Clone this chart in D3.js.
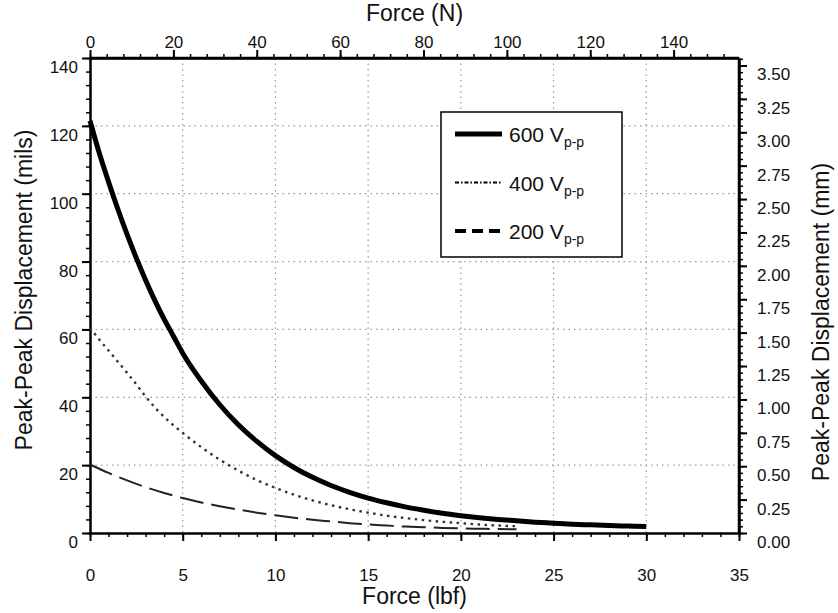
<!DOCTYPE html>
<html>
<head>
<meta charset="utf-8">
<script src="https://cdn.jsdelivr.net/npm/d3@7"></script>
<style>
  html, body { margin: 0; padding: 0; background: #fff; }
  svg { display: block; font-family: "Liberation Sans", Arial, sans-serif; }
  .axis text { font-size: 17px; fill: #111; }
  .axis path, .axis line { stroke: #000; }
</style>
</head>
<body>
<div id="chart"></div>
<script>
// ── Data ──────────────────────────────────────────────────────────────────
const force600 = [0, 0.5, 1, 1.5, 2, 2.5, 3, 3.5, 4, 4.5, 5, 6, 7, 8, 9, 10, 11, 12, 13, 14, 15,
                  16, 17, 18, 19, 20, 21, 22, 23, 24, 25, 26, 27, 28, 29, 30];
const disp600 = [121.5, 112, 103.5, 95.5, 88, 81, 74.5, 68.5, 63, 58, 53, 44.8, 37.8, 31.9, 27,
                 22.8, 19.3, 16.4, 14, 12, 10.3, 8.9, 7.7, 6.7, 5.8, 5.1, 4.5, 4.0, 3.6, 3.2,
                 2.9, 2.6, 2.4, 2.2, 2.05, 1.9];

const force400 = [0, 0.5, 1, 1.5, 2, 2.5, 3, 3.5, 4, 5, 6, 7, 8, 9, 10, 11, 12, 13, 14, 15,
                  16, 17, 18, 19, 20, 21, 22, 23];
const disp400 = [60.5, 57, 53.8, 50.5, 47.2, 43.8, 40.2, 37, 34.2, 29.5, 25.3, 21.6, 18.4, 15.6,
                 13.3, 11.3, 9.6, 8.2, 7, 6, 5.1, 4.4, 3.8, 3.3, 2.9, 2.5, 2.2, 2.0];

const force200 = [0, 1, 2, 3, 4, 5, 6, 7, 8, 9, 10, 11, 12, 13, 14, 15, 16, 17, 18, 19, 20,
                  21, 22, 23];
const disp200 = [20.2, 17.7, 15.5, 13.5, 11.8, 10.3, 9, 7.9, 6.9, 6, 5.2, 4.5, 3.9, 3.4, 2.9,
                 2.5, 2.2, 1.9, 1.7, 1.5, 1.35, 1.25, 1.15, 1.1];

const seriesLabels = ['600', '400', '200'];

const lbfTicks = [0, 5, 10, 15, 20, 25, 30, 35];
const newtonTicks = [0, 20, 40, 60, 80, 100, 120, 140];
const milsTicks = [0, 20, 40, 60, 80, 100, 120, 140];
const mmTicks = [0, 0.25, 0.5, 0.75, 1, 1.25, 1.5, 1.75, 2, 2.25, 2.5, 2.75, 3, 3.25, 3.5];

(function () {
  'use strict';

  const W = 838, H = 613;
  const left = 90, right = 739, top = 58, bottom = 533;
  const LBF_TO_N = 4.44822;
  const MIL_TO_MM = 0.0254;

  const svg = d3.select('#chart').append('svg')
    .attr('width', W)
    .attr('height', H);

  const x = d3.scaleLinear().domain([0, 35]).range([left, right]);
  const xN = d3.scaleLinear().domain([0, 35 * LBF_TO_N]).range([left, right]);
  const y = d3.scaleLinear().domain([0, 140]).range([bottom, top]);
  const yMm = d3.scaleLinear().domain([0, 140 * MIL_TO_MM]).range([bottom, top]);

  // ── Grid ────────────────────────────────────────────────────────────────
  const grid = svg.append('g').attr('stroke', '#9a9a9a').attr('stroke-width', 1.2)
    .attr('stroke-dasharray', '1.5,4');
  grid.selectAll('.vg').data(lbfTicks.filter(t => t > 0 && t < 35)).enter()
    .append('line')
    .attr('x1', d => x(d)).attr('x2', d => x(d))
    .attr('y1', top).attr('y2', bottom);
  grid.selectAll('.hg').data(milsTicks.filter(t => t > 0 && t < 140)).enter()
    .append('line')
    .attr('x1', left).attr('x2', right)
    .attr('y1', d => y(d)).attr('y2', d => y(d));

  // ── Axes ────────────────────────────────────────────────────────────────
  const minor = (scale, step) => d3.range(0, scale.domain()[1] + 1e-9, step);

  function drawAxis(axisFn, scale, major, step, transform, fmt, labelShift) {
    svg.append('g').attr('class', 'axis').attr('transform', transform)
      .call(axisFn(scale).tickValues(minor(scale, step)).tickSize(4).tickFormat(''))
      .call(ax => ax.select('.domain').remove())
      .call(ax => ax.selectAll('line').attr('stroke-width', 1.5));
    const g = svg.append('g').attr('class', 'axis').attr('transform', transform)
      .call(axisFn(scale).tickValues(major).tickSize(8).tickSizeOuter(0).tickFormat(fmt))
      .call(ax => ax.select('.domain').attr('stroke-width', 2.5))
      .call(ax => ax.selectAll('.tick line').attr('stroke-width', 2));
    labelShift(g.selectAll('text'));
  }

  drawAxis(d3.axisBottom, x, lbfTicks, 1, `translate(0,${bottom})`, d3.format('d'),
    t => t.attr('y', 36));
  drawAxis(d3.axisTop, xN, newtonTicks, 4, `translate(0,${top})`, d3.format('d'),
    t => t.attr('y', -10));
  drawAxis(d3.axisLeft, y, milsTicks, 4, `translate(${left},0)`, d3.format('d'),
    t => t.attr('x', -12).attr('y', 9));
  drawAxis(d3.axisRight, yMm, mmTicks, 0.05, `translate(${right},0)`, d3.format('.2f'),
    t => t.attr('x', 18).attr('y', 9));

  // close the frame along the top/right where the axis domains end
  svg.append('line').attr('x1', left).attr('x2', right).attr('y1', top).attr('y2', top)
    .attr('stroke', '#000').attr('stroke-width', 2.5);
  svg.append('line').attr('x1', right).attr('x2', right).attr('y1', top).attr('y2', bottom)
    .attr('stroke', '#000').attr('stroke-width', 2.5);

  // ── Axis titles ─────────────────────────────────────────────────────────
  const title = (txt, tx, ty, rot) => svg.append('text')
    .attr('transform', `translate(${tx},${ty}) rotate(${rot})`)
    .attr('text-anchor', 'middle')
    .attr('dominant-baseline', 'middle')
    .attr('font-size', 23)
    .attr('fill', '#111')
    .text(txt);
  title('Force (N)', (left + right) / 2, 15, 0);
  title('Force (lbf)', (left + right) / 2, 598, 0);
  title('Peak-Peak Displacement (mils)', 26, 290, -90);
  title('Peak-Peak Displacement (mm)', 823, 322, -90);

  // ── Curves ──────────────────────────────────────────────────────────────
  const line = d3.line().x(d => x(d[0])).y(d => y(d[1])).curve(d3.curveMonotoneX);
  const styles = [
    { width: 5, dash: null, color: '#000' },
    { width: 2.4, dash: '2.5,4.5', color: '#333' },
    { width: 2, dash: '24,8', color: '#222' }
  ];
  const series = [
    d3.zip(force600, disp600),
    d3.zip(force400, disp400),
    d3.zip(force200, disp200)
  ];
  series.forEach((pts, i) => {
    svg.append('path')
      .datum(pts)
      .attr('d', line)
      .attr('fill', 'none')
      .attr('stroke', styles[i].color)
      .attr('stroke-width', styles[i].width)
      .attr('stroke-dasharray', styles[i].dash)
      .attr('stroke-linecap', 'butt');
  });

  // ── Legend ──────────────────────────────────────────────────────────────
  const leg = svg.append('g');
  leg.append('rect')
    .attr('x', 441).attr('y', 112).attr('width', 181).attr('height', 145)
    .attr('fill', '#fff').attr('stroke', '#000').attr('stroke-width', 1.5);
  const legStyles = [
    { width: 5, dash: null },
    { width: 2, dash: '4,2,1.5,2' },
    { width: 4, dash: '11,6' }
  ];
  seriesLabels.forEach((lab, i) => {
    const ly = 134 + i * 48.5;
    leg.append('line')
      .attr('x1', 455).attr('x2', 502).attr('y1', ly).attr('y2', ly)
      .attr('stroke', '#000')
      .attr('stroke-width', legStyles[i].width)
      .attr('stroke-dasharray', legStyles[i].dash);
    const t = leg.append('text')
      .attr('x', 509).attr('y', ly + 8)
      .attr('font-size', 21)
      .attr('fill', '#111');
    t.append('tspan').text(lab + ' V');
    t.append('tspan').attr('font-size', 14).attr('dy', 5).text('p-p');
  });
})();
</script>
</body>
</html>
